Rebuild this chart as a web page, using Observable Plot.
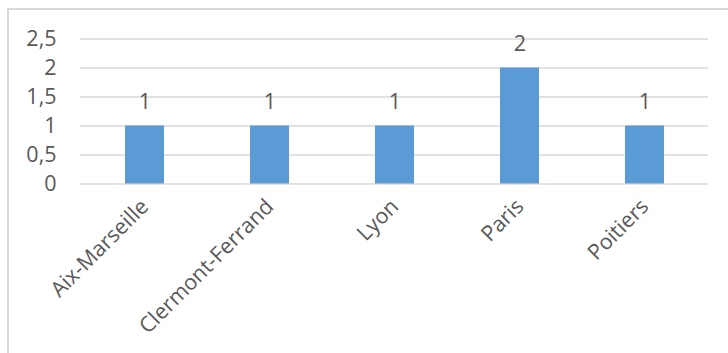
<!DOCTYPE html>
<html>
<head>
<meta charset="utf-8">
<script src="https://cdn.jsdelivr.net/npm/d3@7"></script>
<script src="https://cdn.jsdelivr.net/npm/@observablehq/plot@0.6"></script>
<style>
  html, body { margin: 0; padding: 0; background: #fff; }
  #wrap { position: relative; width: 728px; height: 353px; overflow: hidden; }
  #box {
    position: absolute; left: 7px; top: 8px; width: 740px; height: 360px;
    border-left: 2px solid #d9d9d9; border-top: 2px solid #d9d9d9;
    box-sizing: border-box;
  }
  #chart { position: absolute; left: 0; top: 0; }
</style>
</head>
<body>
<div id="wrap"><div id="box"></div><div id="chart"></div></div>
<script>
// Academies and their counts
const categories = ["Aix-Marseille", "Clermont-Ferrand", "Lyon", "Paris", "Poitiers"];
const counts = [1, 1, 1, 2, 1];
const yTicks = [0, 0.5, 1, 1.5, 2, 2.5];

const data = categories.map((c, i) => ({ academie: c, n: counts[i] }));
const frNum = d => String(d).replace(".", ",");
const textColor = "#595959";
const font = "Open Sans, sans-serif";
const fs = 21.5;

const chart = Plot.plot({
  width: 728,
  height: 353,
  marginLeft: 80,
  marginRight: 20,
  marginTop: 38.5,
  marginBottom: 169.5,
  style: { fontFamily: font, fontSize: fs + "px", color: textColor, background: "transparent" },
  x: { domain: categories, paddingInner: 0.69, paddingOuter: 0.345, align: 0.5 },
  y: { domain: [0, 2.5], ticks: yTicks },
  marks: [
    Plot.gridY(yTicks, { stroke: "#d9d9d9", strokeOpacity: 1, strokeWidth: 1.5 }),
    Plot.barY(data, { x: "academie", y: "n", fill: "#5b9bd5" }),
    Plot.text(data, {
      x: "academie", y: "n", text: d => frNum(d.n), dy: -24,
      fill: textColor, fontSize: fs
    }),
    Plot.axisY({
      ticks: yTicks, tickFormat: frNum, tickSize: 0, tickPadding: 24,
      label: null, fill: textColor, fontSize: fs
    }),
    Plot.axisX({
      tickSize: 0, tickRotate: -45, tickPadding: 19, label: null,
      fill: textColor, fontSize: fs
    })
  ]
});
document.getElementById("chart").appendChild(chart);
</script>
</body>
</html>
